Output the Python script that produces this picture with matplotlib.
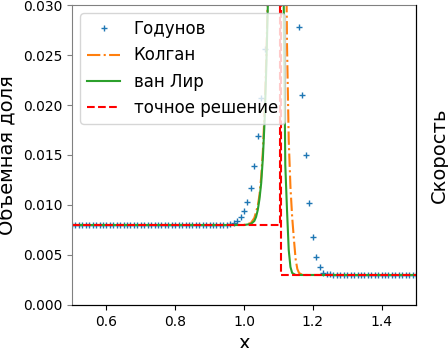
import matplotlib
matplotlib.use('Agg')
import matplotlib.pyplot as plt
import numpy as np

# Godunov scheme, cell values on uniform mesh dx = 0.01
x_god = np.round(np.arange(0.50, 1.505, 0.01), 2)
y_god = ([0.008] * 44
         + [0.00801, 0.00804, 0.0081, 0.0082, 0.0084, 0.0088, 0.0094,
            0.0103, 0.0117, 0.0139, 0.0169, 0.0207, 0.0256]
         + [0.031, 0.037, 0.044, 0.050, 0.052, 0.050, 0.045, 0.038, 0.032]
         + [0.0278, 0.021, 0.015, 0.0102, 0.0068, 0.0048, 0.0038, 0.0032,
            0.0031, 0.00305]
         + [0.003] * 25)

# Kolgan scheme
x_kol = [0.5, 1.00, 1.02, 1.03, 1.04, 1.045, 1.05, 1.055, 1.06, 1.065, 1.07,
         1.08, 1.09, 1.10, 1.11, 1.12, 1.125, 1.13, 1.135, 1.14, 1.145, 1.15,
         1.155, 1.16, 1.17, 1.5]
y_kol = [0.008, 0.008, 0.0082, 0.0087, 0.0099, 0.011, 0.0128, 0.0155, 0.0195,
         0.025, 0.032, 0.05, 0.08, 0.1, 0.08, 0.045, 0.026, 0.0165, 0.0118,
         0.0088, 0.0066, 0.0046, 0.0036, 0.0032, 0.003, 0.003]

# van Leer scheme
x_vl = [0.5, 1.00, 1.02, 1.03, 1.035, 1.04, 1.045, 1.05, 1.055, 1.06, 1.065,
        1.07, 1.08, 1.09, 1.10, 1.11, 1.115, 1.12, 1.125, 1.13, 1.135, 1.14,
        1.15, 1.5]
y_vl = [0.008, 0.008, 0.0081, 0.0084, 0.0088, 0.0095, 0.0106, 0.0122, 0.0148,
        0.0185, 0.024, 0.031, 0.05, 0.08, 0.1, 0.08, 0.032, 0.014, 0.0095,
        0.0055, 0.0038, 0.0032, 0.003, 0.003]

# exact solution (with spike at the shock)
x_ex = [0.5, 1.105, 1.105, 1.108, 1.108, 1.5]
y_ex = [0.008, 0.008, 1.0, 1.0, 0.003, 0.003]

fig = plt.figure(figsize=(4.48, 3.48), dpi=100)
ax = fig.add_axes([0.1607, 0.1236, 0.7679, 0.862])

ax.plot(x_god, y_god, '+', color='C0', markersize=5, label='Годунов')
ax.plot(x_kol, y_kol, '-.', color='C1', label='Колган')
ax.plot(x_vl, y_vl, '-', color='C2', label='ван Лир')
ax.plot(x_ex, y_ex, '--', color='r', label='точное решение')

ax.set_xlim(0.5, 1.5)
ax.set_ylim(0, 0.03)
ax.set_xticks([0.6, 0.8, 1.0, 1.2, 1.4])
ax.set_yticks([0, 0.005, 0.01, 0.015, 0.02, 0.025, 0.03])
ax.set_yticklabels(['0.000', '0.005', '0.010', '0.015', '0.020', '0.025', '0.030'])
ax.set_xlabel('x', fontsize=14)
ax.set_ylabel('Объёмная доля', fontsize=14)
ax.spines['left'].set_color('gray')
ax.spines['top'].set_color('gray')
ax.tick_params(axis='y', color='gray')
ax.legend(loc='upper left', fontsize=12)

ax2 = ax.twinx()
ax2.set_yticks([])
ax2.spines['left'].set_visible(False)
ax2.spines['top'].set_visible(False)
ax2.set_ylabel('Скорость', fontsize=14, labelpad=10)

fig.savefig('out.png', dpi=100)
